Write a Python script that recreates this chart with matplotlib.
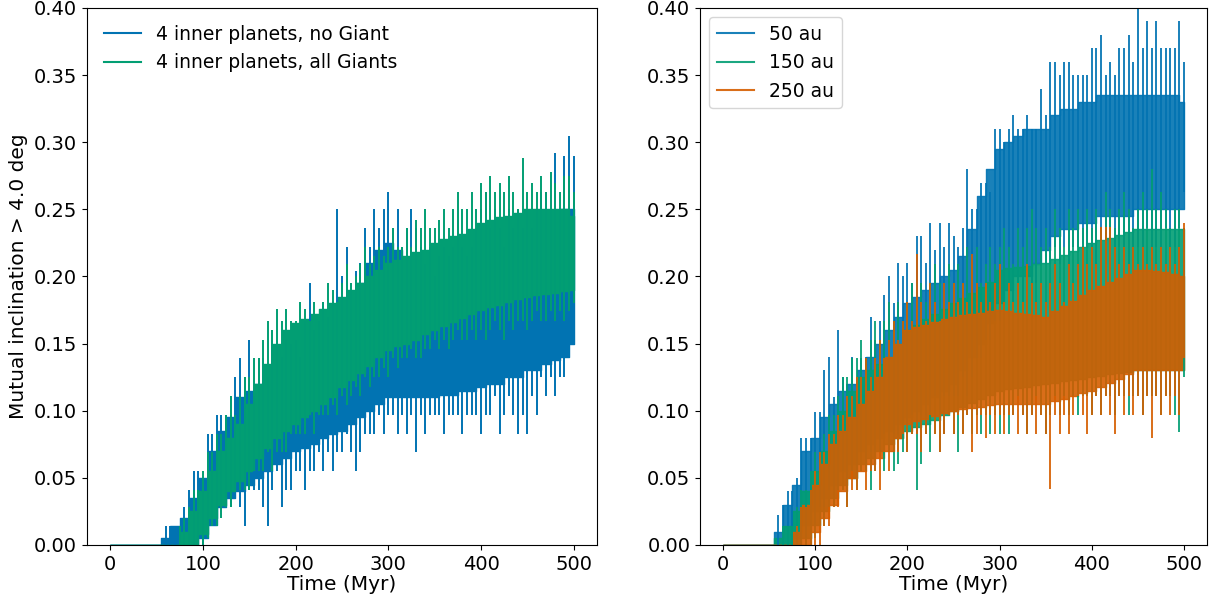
import numpy as np
import matplotlib.pyplot as plt
from matplotlib.lines import Line2D

# time grid of the dense band (Myr) and of the single excursions
t_band = np.arange(0, 501, 10)
t_spk = np.arange(50, 501, 5)

# ---- left panel: 4 inner planets -------------------------------------
noG_lo = [0, 0, 0, 0, 0, 0, 0, 0, 0, 0,
          0.005, 0.015, 0.028, 0.035, 0.04, 0.045, 0.05, 0.055, 0.06, 0.065,
          0.07, 0.072, 0.075, 0.08, 0.083, 0.085, 0.09, 0.095, 0.10, 0.105,
          0.11, 0.11, 0.11, 0.11, 0.11, 0.11, 0.112, 0.112, 0.115, 0.115,
          0.118, 0.12, 0.12, 0.125, 0.125, 0.13, 0.13, 0.135, 0.138, 0.14,
          0.15]
noG_hi = [0, 0, 0, 0, 0, 0, 0.005, 0.014, 0.02, 0.035,
          0.05, 0.07, 0.085, 0.095, 0.11, 0.115, 0.12, 0.125, 0.13, 0.135,
          0.14, 0.145, 0.15, 0.16, 0.17, 0.175, 0.18, 0.195, 0.21, 0.22,
          0.225, 0.22, 0.21, 0.205, 0.205, 0.205, 0.21, 0.21, 0.21, 0.215,
          0.215, 0.22, 0.22, 0.225, 0.225, 0.23, 0.235, 0.24, 0.245, 0.25,
          0.25]
noG_spk_hi = [0, 0, 0.014, 0.014, 0.014, 0.014, 0.028, 0.041, 0.055, 0.055,
              0.041, 0.083, 0.083, 0.097, 0.097, 0.097, 0.097, 0.125, 0.139, 0.125,
              0.153, 0.111, 0.139, 0.139, 0.125, 0.153, 0.153, 0.14, 0.153, 0.15,
              0.153, 0.14, 0.167, 0.195, 0.16, 0.167, 0.181, 0.17, 0.181, 0.25,
              0.20, 0.222, 0.19, 0.204, 0.21, 0.236, 0.222, 0.25, 0.236, 0.25,
              0.263, 0.236, 0.25, 0.222, 0.236, 0.25, 0.236, 0.222, 0.209, 0.222,
              0.2, 0.215, 0.222, 0.215, 0.222, 0.242, 0.222, 0.215, 0.222, 0.236,
              0.25, 0.263, 0.236, 0.25, 0.236, 0.222, 0.25, 0.236, 0.25, 0.236,
              0.25, 0.236, 0.25, 0.263, 0.263, 0.25, 0.292, 0.25, 0.29, 0.305,
              0.29]
noG_spk_lo = [0, 0, 0, 0, 0, 0, 0, 0, 0, 0,
              0, 0.014, 0.014, 0.014, 0.028, 0.028, 0.028, 0.041, 0.028, 0.014,
              0.041, 0.041, 0.041, 0.028, 0.014, 0.041, 0.055, 0.028, 0.041, 0.041,
              0.055, 0.055, 0.041, 0.055, 0.055, 0.069, 0.055, 0.069, 0.055, 0.069,
              0.069, 0.083, 0.069, 0.055, 0.069, 0.083, 0.083, 0.083, 0.097, 0.083,
              0.097, 0.097, 0.083, 0.097, 0.083, 0.097, 0.069, 0.097, 0.083, 0.097,
              0.097, 0.097, 0.083, 0.097, 0.097, 0.097, 0.083, 0.097, 0.097, 0.097,
              0.083, 0.097, 0.097, 0.111, 0.083, 0.097, 0.111, 0.097, 0.083, 0.097,
              0.083, 0.111, 0.097, 0.125, 0.111, 0.125, 0.111, 0.125, 0.125, 0.139,
              0.18]

allG_lo = [0, 0, 0, 0, 0, 0, 0, 0, 0, 0,
           0.008, 0.02, 0.03, 0.04, 0.048, 0.055, 0.065, 0.072, 0.08, 0.085,
           0.09, 0.095, 0.10, 0.105, 0.11, 0.118, 0.123, 0.128, 0.133, 0.14,
           0.145, 0.148, 0.15, 0.153, 0.157, 0.16, 0.163, 0.166, 0.169, 0.172,
           0.175, 0.177, 0.179, 0.181, 0.183, 0.185, 0.186, 0.187, 0.188, 0.189,
           0.19]
allG_hi = [0, 0, 0, 0, 0, 0, 0, 0, 0.01, 0.025,
           0.04, 0.055, 0.07, 0.08, 0.09, 0.105, 0.12, 0.135, 0.15, 0.16,
           0.165, 0.168, 0.172, 0.176, 0.18, 0.185, 0.19, 0.195, 0.2, 0.205,
           0.21, 0.212, 0.215, 0.218, 0.22, 0.225, 0.228, 0.23, 0.232, 0.235,
           0.24, 0.242, 0.244, 0.245, 0.247, 0.25, 0.25, 0.25, 0.25, 0.25,
           0.245]
allG_spk_hi = [0, 0, 0, 0, 0, 0.014, 0.02, 0.028, 0.041, 0.041,
               0.055, 0.069, 0.069, 0.083, 0.083, 0.097, 0.111, 0.097, 0.111, 0.125,
               0.125, 0.139, 0.139, 0.153, 0.167, 0.16, 0.176, 0.167, 0.176, 0.167,
               0.167, 0.181, 0.176, 0.167, 0.181, 0.17, 0.181, 0.195, 0.19, 0.181,
               0.195, 0.209, 0.195, 0.2, 0.209, 0.222, 0.209, 0.215, 0.222, 0.215,
               0.222, 0.236, 0.222, 0.222, 0.236, 0.222, 0.242, 0.236, 0.25, 0.236,
               0.236, 0.242, 0.25, 0.236, 0.25, 0.263, 0.25, 0.25, 0.263, 0.25,
               0.27, 0.263, 0.275, 0.263, 0.27, 0.263, 0.275, 0.263, 0.25, 0.288,
               0.263, 0.27, 0.263, 0.275, 0.263, 0.278, 0.27, 0.263, 0.275, 0.275,
               0.263]
allG_spk_lo = [0, 0, 0, 0, 0, 0, 0, 0, 0, 0,
               0, 0.005, 0.014, 0.014, 0.02, 0.028, 0.028, 0.041, 0.041, 0.041,
               0.041, 0.055, 0.055, 0.055, 0.069, 0.055, 0.069, 0.069, 0.069, 0.083,
               0.083, 0.083, 0.083, 0.097, 0.083, 0.097, 0.097, 0.097, 0.104, 0.097,
               0.111, 0.104, 0.111, 0.118, 0.111, 0.125, 0.118, 0.125, 0.125, 0.132,
               0.125, 0.139, 0.132, 0.139, 0.139, 0.146, 0.139, 0.139, 0.146, 0.146,
               0.153, 0.146, 0.153, 0.146, 0.153, 0.16, 0.153, 0.153, 0.16, 0.153,
               0.16, 0.153, 0.16, 0.167, 0.16, 0.153, 0.167, 0.16, 0.167, 0.167,
               0.16, 0.167, 0.174, 0.167, 0.167, 0.174, 0.167, 0.174, 0.167, 0.174,
               0.18]

# ---- right panel: giant at different distances -----------------------
au50_lo = [0, 0, 0, 0, 0, 0, 0, 0, 0.005, 0.015,
           0.025, 0.035, 0.045, 0.055, 0.06, 0.07, 0.075, 0.08, 0.085, 0.09,
           0.095, 0.1, 0.105, 0.11, 0.115, 0.12, 0.13, 0.14, 0.15, 0.165,
           0.18, 0.19, 0.2, 0.2, 0.21, 0.22, 0.23, 0.235, 0.235, 0.24,
           0.24, 0.245, 0.245, 0.245, 0.245, 0.25, 0.25, 0.25, 0.25, 0.25,
           0.25]
au50_hi = [0, 0, 0, 0, 0, 0, 0.01, 0.03, 0.045, 0.07,
           0.08, 0.095, 0.105, 0.115, 0.12, 0.13, 0.14, 0.15, 0.16, 0.17,
           0.18, 0.185, 0.19, 0.195, 0.2, 0.205, 0.215, 0.235, 0.26, 0.28,
           0.295, 0.3, 0.305, 0.31, 0.31, 0.31, 0.32, 0.325, 0.325, 0.33,
           0.33, 0.335, 0.335, 0.335, 0.335, 0.335, 0.335, 0.335, 0.335, 0.335,
           0.33]
au50_spk_hi = [0, 0, 0.022, 0.03, 0.04, 0.04, 0.05, 0.08, 0.08, 0.08,
               0.099, 0.099, 0.13, 0.14, 0.11, 0.16, 0.125, 0.12, 0.14, 0.125,
               0.139, 0.14, 0.17, 0.153, 0.167, 0.186, 0.2, 0.18, 0.21, 0.2,
               0.21, 0.195, 0.23, 0.23, 0.21, 0.24, 0.22, 0.24, 0.222, 0.24,
               0.23, 0.222, 0.236, 0.28, 0.25, 0.25, 0.27, 0.27, 0.263, 0.31,
               0.31, 0.3, 0.31, 0.32, 0.31, 0.31, 0.32, 0.31, 0.31, 0.34,
               0.32, 0.36, 0.36, 0.35, 0.36, 0.36, 0.35, 0.35, 0.35, 0.35,
               0.37, 0.37, 0.38, 0.35, 0.36, 0.35, 0.37, 0.37, 0.38, 0.36,
               0.4, 0.37, 0.39, 0.37, 0.39, 0.37, 0.37, 0.37, 0.37, 0.39,
               0.36]
au50_spk_lo = [0, 0, 0, 0, 0, 0, 0, 0, 0.005, 0.014,
               0.014, 0.028, 0.028, 0.041, 0.041, 0.041, 0.055, 0.041, 0.055, 0.055,
               0.069, 0.055, 0.069, 0.069, 0.069, 0.083, 0.069, 0.083, 0.083, 0.083,
               0.083, 0.097, 0.083, 0.097, 0.097, 0.097, 0.111, 0.097, 0.111, 0.111,
               0.111, 0.111, 0.125, 0.111, 0.125, 0.139, 0.139, 0.153, 0.153, 0.167,
               0.167, 0.181, 0.181, 0.181, 0.195, 0.181, 0.195, 0.195, 0.195, 0.209,
               0.209, 0.209, 0.222, 0.209, 0.222, 0.209, 0.222, 0.222, 0.209, 0.222,
               0.222, 0.209, 0.222, 0.222, 0.222, 0.209, 0.222, 0.222, 0.209, 0.222,
               0.222, 0.222, 0.236, 0.222, 0.222, 0.222, 0.236, 0.222, 0.222, 0.236,
               0.263]

au150_lo = [0, 0, 0, 0, 0, 0, 0, 0, 0, 0.005,
            0.015, 0.025, 0.035, 0.045, 0.05, 0.06, 0.065, 0.07, 0.075, 0.08,
            0.085, 0.088, 0.09, 0.093, 0.097, 0.1, 0.103, 0.106, 0.109, 0.112,
            0.115, 0.116, 0.117, 0.118, 0.119, 0.12, 0.121, 0.122, 0.123, 0.124,
            0.125, 0.126, 0.127, 0.128, 0.129, 0.13, 0.13, 0.13, 0.13, 0.13,
            0.13]
au150_hi = [0, 0, 0, 0, 0, 0, 0.005, 0.014, 0.025, 0.04,
            0.055, 0.07, 0.085, 0.1, 0.115, 0.125, 0.13, 0.135, 0.14, 0.15,
            0.16, 0.164, 0.168, 0.172, 0.176, 0.18, 0.184, 0.188, 0.192, 0.196,
            0.205, 0.206, 0.207, 0.208, 0.209, 0.21, 0.213, 0.216, 0.219, 0.222,
            0.225, 0.227, 0.229, 0.231, 0.233, 0.235, 0.235, 0.235, 0.235, 0.235,
            0.235]
au150_spk_hi = [0, 0, 0, 0.014, 0.014, 0.014, 0.028, 0.041, 0.041, 0.055,
                0.069, 0.069, 0.083, 0.097, 0.097, 0.111, 0.125, 0.125, 0.139, 0.139,
                0.153, 0.139, 0.153, 0.167, 0.153, 0.167, 0.181, 0.167, 0.181, 0.167,
                0.181, 0.195, 0.181, 0.195, 0.181, 0.195, 0.209, 0.195, 0.181, 0.209,
                0.195, 0.209, 0.195, 0.222, 0.209, 0.222, 0.195, 0.209, 0.222, 0.209,
                0.222, 0.236, 0.222, 0.209, 0.236, 0.222, 0.236, 0.25, 0.236, 0.222,
                0.236, 0.222, 0.25, 0.236, 0.222, 0.25, 0.236, 0.25, 0.236, 0.25,
                0.236, 0.25, 0.236, 0.263, 0.25, 0.236, 0.25, 0.263, 0.25, 0.236,
                0.25, 0.263, 0.25, 0.28, 0.25, 0.263, 0.25, 0.236, 0.25, 0.25,
                0.236]
au150_spk_lo = [0, 0, 0, 0, 0, 0, 0, 0, 0, 0,
                0.005, 0.014, 0.014, 0.028, 0.028, 0.041, 0.041, 0.028, 0.055, 0.041,
                0.055, 0.055, 0.041, 0.055, 0.069, 0.055, 0.069, 0.055, 0.06, 0.069,
                0.069, 0.083, 0.041, 0.06, 0.083, 0.069, 0.083, 0.069, 0.083, 0.097,
                0.083, 0.069, 0.083, 0.097, 0.083, 0.097, 0.083, 0.097, 0.083, 0.097,
                0.083, 0.097, 0.083, 0.097, 0.111, 0.097, 0.083, 0.097, 0.111, 0.097,
                0.083, 0.097, 0.111, 0.097, 0.111, 0.097, 0.111, 0.097, 0.111, 0.111,
                0.097, 0.111, 0.097, 0.111, 0.111, 0.097, 0.111, 0.111, 0.097, 0.111,
                0.111, 0.097, 0.111, 0.111, 0.111, 0.097, 0.111, 0.111, 0.097, 0.084,
                0.125]

au250_lo = [0, 0, 0, 0, 0, 0, 0, 0, 0, 0,
            0.01, 0.02, 0.03, 0.04, 0.05, 0.055, 0.06, 0.065, 0.07, 0.08,
            0.09, 0.092, 0.094, 0.096, 0.098, 0.1, 0.101, 0.102, 0.103, 0.104,
            0.105, 0.105, 0.105, 0.105, 0.105, 0.105, 0.107, 0.109, 0.111, 0.113,
            0.115, 0.118, 0.121, 0.124, 0.127, 0.13, 0.13, 0.13, 0.13, 0.13,
            0.13]
au250_hi = [0, 0, 0, 0, 0, 0, 0, 0, 0.01, 0.03,
            0.045, 0.06, 0.075, 0.085, 0.095, 0.105, 0.115, 0.125, 0.14, 0.15,
            0.16, 0.162, 0.164, 0.166, 0.168, 0.17, 0.171, 0.172, 0.173, 0.174,
            0.175, 0.174, 0.173, 0.172, 0.171, 0.17, 0.174, 0.178, 0.182, 0.186,
            0.19, 0.193, 0.196, 0.199, 0.202, 0.205, 0.205, 0.204, 0.203, 0.202,
            0.2]
au250_spk_hi = [0, 0, 0, 0, 0, 0, 0.014, 0.028, 0.028, 0.041,
                0.055, 0.069, 0.069, 0.083, 0.083, 0.097, 0.097, 0.111, 0.111, 0.125,
                0.125, 0.139, 0.125, 0.139, 0.153, 0.139, 0.153, 0.167, 0.153, 0.167,
                0.181, 0.167, 0.217, 0.181, 0.167, 0.195, 0.181, 0.167, 0.195, 0.181,
                0.195, 0.181, 0.195, 0.181, 0.217, 0.195, 0.181, 0.195, 0.181, 0.195,
                0.209, 0.181, 0.195, 0.181, 0.195, 0.181, 0.209, 0.195, 0.181, 0.195,
                0.181, 0.195, 0.209, 0.195, 0.181, 0.209, 0.195, 0.209, 0.222, 0.209,
                0.222, 0.209, 0.237, 0.237, 0.237, 0.222, 0.209, 0.222, 0.209, 0.222,
                0.209, 0.222, 0.209, 0.222, 0.209, 0.222, 0.209, 0.222, 0.209, 0.222,
                0.24]
au250_spk_lo = [0, 0, 0, 0, 0, 0, 0, 0, 0, 0,
                0, 0, 0.014, 0.014, 0.028, 0.028, 0.041, 0.028, 0.041, 0.041,
                0.055, 0.041, 0.055, 0.055, 0.041, 0.069, 0.055, 0.069, 0.069, 0.083,
                0.069, 0.083, 0.083, 0.069, 0.083, 0.097, 0.083, 0.069, 0.083, 0.097,
                0.083, 0.097, 0.083, 0.097, 0.069, 0.083, 0.097, 0.08, 0.097, 0.083,
                0.097, 0.083, 0.097, 0.097, 0.083, 0.097, 0.083, 0.097, 0.083, 0.097,
                0.083, 0.042, 0.097, 0.083, 0.097, 0.083, 0.097, 0.111, 0.097, 0.083,
                0.097, 0.111, 0.097, 0.111, 0.097, 0.083, 0.111, 0.097, 0.111, 0.097,
                0.111, 0.097, 0.111, 0.08, 0.111, 0.097, 0.111, 0.097, 0.111, 0.097,
                0.139]

labels_left = ['4 inner planets, no Giant', '4 inner planets, all Giants']
labels_right = ['50 au', '150 au', '250 au']
c_blue, c_green, c_orange = '#0173b2', '#029e73', '#d55e00'


def draw_run(ax, lo, hi, spk_lo, spk_hi, color, alpha=1.0):
    # dense part of the run as a stepped band, single excursions as strokes
    ax.fill_between(t_band, lo, hi, step='mid', facecolor=color,
                    edgecolor=color, lw=1.0, alpha=alpha)
    ax.vlines(t_spk, spk_lo, spk_hi, color=color, lw=1.4, alpha=alpha)


plt.rcParams['font.family'] = 'DejaVu Sans'
fig = plt.figure(figsize=(12.18, 6.04), dpi=100)
ax1 = fig.add_axes([0.0714, 0.0977, 0.4187, 0.8891])
ax2 = fig.add_axes([0.5747, 0.0977, 0.4163, 0.8891])

draw_run(ax1, noG_lo, noG_hi, noG_spk_lo, noG_spk_hi, c_blue)
draw_run(ax1, allG_lo, allG_hi, allG_spk_lo, allG_spk_hi, c_green)

draw_run(ax2, au50_lo, au50_hi, au50_spk_lo, au50_spk_hi, c_blue, 0.9)
draw_run(ax2, au150_lo, au150_hi, au150_spk_lo, au150_spk_hi, c_green, 0.9)
draw_run(ax2, au250_lo, au250_hi, au250_spk_lo, au250_spk_hi, c_orange, 0.9)

h1 = [Line2D([], [], color=c, lw=1.5) for c in (c_blue, c_green)]
ax1.legend(h1, labels_left, loc='upper left', fontsize=13.5, frameon=False)
h2 = [Line2D([], [], color=c, lw=1.5, alpha=0.9) for c in (c_blue, c_green, c_orange)]
ax2.legend(h2, labels_right, loc='upper left', fontsize=13.5)

for ax in (ax1, ax2):
    ax.set_xlim(-25, 525)
    ax.set_ylim(0, 0.4)
    ax.set_xticks([0, 100, 200, 300, 400, 500])
    ax.set_yticks(np.arange(0, 0.41, 0.05))
    ax.yaxis.set_major_formatter(plt.FormatStrFormatter('%.2f'))
    ax.tick_params(labelsize=14)
    ax.set_xlabel('Time (Myr)', fontsize=14.5, labelpad=1)
ax1.set_ylabel('Mutual inclination > 4.0 deg', fontsize=14.5)

fig.savefig('out.png', dpi=100)
